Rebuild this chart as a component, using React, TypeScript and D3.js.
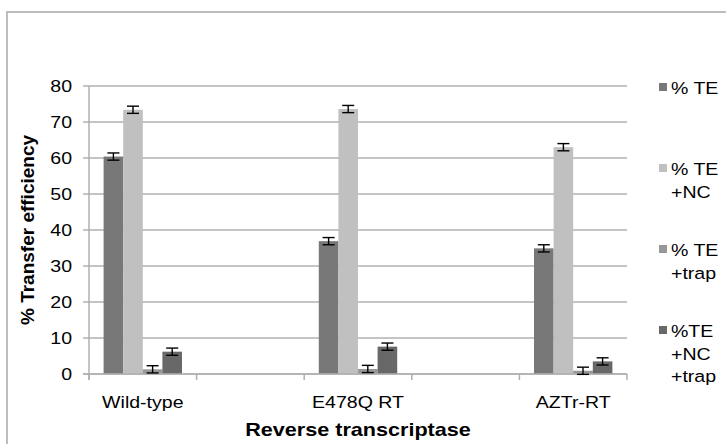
import React, { useEffect, useRef } from 'react';
import * as d3 from 'd3';

// empty strings are the blank spacer categories of the original sheet
const categories = ['Wild-type', '', 'E478Q RT', '', 'AZTr-RT'];
const seriesNames = ['% TE', '% TE +NC', '% TE +trap', '%TE +NC +trap'];
const legendLines = [['% TE'], ['% TE', '+NC'], ['% TE', '+trap'], ['%TE', '+NC', '+trap']];
const seriesColors = ['#787878', '#c0c0c0', '#979797', '#686868'];

const te = [60.4, null, 36.9, null, 34.9];
const teNC = [73.4, null, 73.6, null, 63.0];
const teTrap = [1.3, null, 1.4, null, 0.9];
const teNCTrap = [6.2, null, 7.6, null, 3.5];
const errors = [
  [1.0, null, 1.0, null, 1.0],
  [1.0, null, 1.0, null, 1.0],
  [1.0, null, 1.0, null, 1.0],
  [1.0, null, 1.0, null, 1.0],
];
const yTicks = [0, 10, 20, 30, 40, 50, 60, 70, 80];

const font = '"Liberation Sans", Arial, sans-serif';
const stretch = 1.15; // the original text is drawn a bit wide

export default function App() {
  const ref = useRef<SVGSVGElement>(null);

  useEffect(() => {
    const svg = d3.select(ref.current);
    svg.selectAll('*').remove();

    const left = 89, right = 627, top = 86, bottom = 374;
    const values = [te, teNC, teTrap, teNCTrap];

    const x = d3.scaleBand<number>().domain(d3.range(categories.length)).range([left, right]);
    const xs = d3.scaleBand<number>().domain(d3.range(seriesNames.length))
      .range([0, x.bandwidth()]).paddingOuter(0.745);
    const y = d3.scaleLinear().domain([0, 80]).range([bottom, top]);

    // chart border
    svg.append('rect')
      .attr('x', 7).attr('y', 12).attr('width', 740).attr('height', 450)
      .attr('fill', 'none').attr('stroke', '#bdbdbd').attr('stroke-width', 2);

    // gridlines + y ticks
    svg.selectAll('.grid').data(yTicks).enter().append('line')
      .attr('x1', left - 6).attr('x2', right)
      .attr('y1', d => y(d)).attr('y2', d => y(d))
      .attr('stroke', '#b0b0b0').attr('stroke-width', 1.5);

    svg.selectAll('.ylab').data(yTicks).enter().append('text')
      .attr('transform', d => `translate(72,${y(d) + 6.1}) scale(${stretch},1)`)
      .attr('text-anchor', 'end')
      .style('font-family', font).style('font-size', '17px').attr('fill', '#000')
      .text(d => d);

    // y axis line
    svg.append('line')
      .attr('x1', left).attr('x2', left).attr('y1', top).attr('y2', bottom + 6)
      .attr('stroke', '#b0b0b0').attr('stroke-width', 1.5);

    // bars
    values.forEach((vals, s) => {
      const g = svg.append('g');
      categories.forEach((c, i) => {
        const v = vals[i];
        if (v == null) return;
        g.append('rect')
          .attr('x', x(i)! + xs(s)!)
          .attr('width', xs.bandwidth())
          .attr('y', y(v))
          .attr('height', bottom - y(v))
          .attr('fill', seriesColors[s]);
      });
    });

    // x axis
    svg.append('line')
      .attr('x1', left - 6).attr('x2', right).attr('y1', bottom).attr('y2', bottom)
      .attr('stroke', '#b0b0b0').attr('stroke-width', 1.5);
    svg.selectAll('.xtick').data(d3.range(categories.length + 1)).enter().append('line')
      .attr('x1', d => left + d * x.step()).attr('x2', d => left + d * x.step())
      .attr('y1', bottom).attr('y2', bottom + 6)
      .attr('stroke', '#b0b0b0').attr('stroke-width', 1.5);

    // error bars
    values.forEach((vals, s) => {
      categories.forEach((c, i) => {
        const v = vals[i];
        const e = errors[s][i];
        if (v == null || e == null) return;
        const cx = x(i)! + xs(s)! + xs.bandwidth() / 2;
        const g = svg.append('g').attr('stroke', '#000').attr('stroke-width', 1.4);
        g.append('line').attr('x1', cx).attr('x2', cx).attr('y1', y(v + e)).attr('y2', y(v - e));
        [v + e, v - e].forEach(w => {
          g.append('line').attr('x1', cx - 6).attr('x2', cx + 6).attr('y1', y(w)).attr('y2', y(w));
        });
      });
    });

    // category labels
    categories.forEach((c, i) => {
      if (!c) return;
      svg.append('text')
        .attr('transform', `translate(${x(i)! + x.bandwidth() / 2},408) scale(${stretch},1)`)
        .attr('text-anchor', 'middle')
        .style('font-family', font).style('font-size', '17px')
        .text(c);
    });

    // axis titles
    svg.append('text')
      .attr('transform', `translate(${(left + right) / 2},436) scale(1.2,1)`)
      .attr('text-anchor', 'middle')
      .style('font-family', font).style('font-size', '18px').style('font-weight', 'bold')
      .text('Reverse transcriptase');

    svg.append('text')
      .attr('transform', `translate(34,${(top + bottom) / 2}) rotate(-90)`)
      .attr('text-anchor', 'middle')
      .style('font-family', font).style('font-size', '19px').style('font-weight', 'bold')
      .text('% Transfer efficiency');

    // legend
    legendLines.forEach((lines, s) => {
      const base = 94 + s * 81;
      svg.append('rect')
        .attr('x', 659).attr('y', base - 11).attr('width', 8).attr('height', 8)
        .attr('fill', seriesColors[s]);
      lines.forEach((t, k) => {
        svg.append('text')
          .attr('transform', `translate(671,${base + k * 22.5}) scale(${stretch},1)`)
          .style('font-family', font).style('font-size', '17px')
          .text(t);
      });
    });
  }, []);

  return (
    <svg ref={ref} width={726} height={444}
      style={{ position: 'absolute', left: 0, top: 0, background: '#fff' }} />
  );
}
